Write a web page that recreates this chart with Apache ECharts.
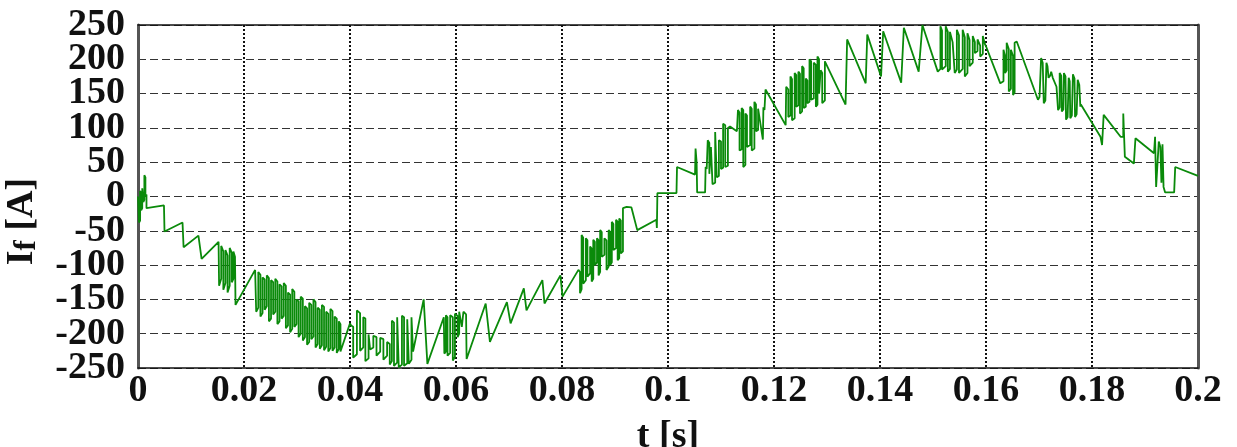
<!DOCTYPE html>
<html>
<head>
<meta charset="utf-8">
<title>If [A]</title>
<script src="https://cdn.jsdelivr.net/npm/echarts@6/dist/echarts.min.js"></script>
<style>
  html, body { margin: 0; padding: 0; background: #fff; }
  #chart { width: 1237px; height: 447px; }
</style>
</head>
<body>
<div id="chart"></div>
<script>
// Axis ticks
const timeTicks = [0, 0.02, 0.04, 0.06, 0.08, 0.1, 0.12, 0.14, 0.16, 0.18, 0.2];
const currentTicks = [-250, -200, -150, -100, -50, 0, 50, 100, 150, 200, 250];

// Field current samples [t (s), If (A)], split by stretch of the cycle
const startup = [[0,0],[0.0002,0],[0.0002,-38],[0.0004,-35],[0.0004,8],[0.0006,5],[0.0006,-20],[0.0008,-17],[0.0008,12],[0.0010,10],[0.0010,-8],[0.0012,-5],[0.0012,31],[0.0014,28],[0.0014,0],[0.0016,3],[0.0016,-17],[0.0049,-13],[0.0050,-51],[0.0084,-38],[0.0086,-74],[0.0114,-57],[0.0120,-91],[0.0152,-66],[0.0153,-130],[0.0157,-120],[0.0157,-72],[0.0161,-80],[0.0161,-136],[0.0165,-126],[0.0165,-78],[0.0169,-86],[0.0169,-140],[0.0173,-130],[0.0173,-75],[0.0177,-82],[0.0177,-125],[0.0180,-120],[0.0180,-80],[0.0183,-88],[0.0184,-158],[0.0221,-107]];

const fallDense = [[0.0223,-107],[0.0223,-168],[0.0227,-162],[0.0227,-110],[0.0231,-114],[0.0231,-175],[0.0235,-170],[0.0235,-118],[0.0239,-121],[0.0239,-165],[0.0243,-160],[0.0243,-115],[0.0247,-119],[0.0247,-182],[0.0251,-178],[0.0251,-122],[0.0255,-125],[0.0255,-172],[0.0259,-168],[0.0259,-120],[0.0263,-124],[0.0263,-186],[0.0267,-182],[0.0267,-128],[0.0271,-131],[0.0271,-178],[0.0275,-174],[0.0275,-126],[0.0279,-130],[0.0279,-192],[0.0283,-188],[0.0283,-140],[0.0287,-143],[0.0287,-198],[0.0291,-193],[0.0291,-135],[0.0295,-139],[0.0295,-190],[0.0299,-186],[0.0299,-150],[0.0303,-153],[0.0303,-205],[0.0307,-200],[0.0307,-146],[0.0311,-149],[0.0311,-210],[0.0315,-205],[0.0315,-160],[0.0319,-163],[0.0319,-216],[0.0323,-212],[0.0323,-155],[0.0327,-158],[0.0327,-208],[0.0331,-204],[0.0331,-150],[0.0335,-154],[0.0335,-220],[0.0339,-215],[0.0339,-162],[0.0343,-165],[0.0343,-222],[0.0347,-217],[0.0347,-158],[0.0351,-161],[0.0351,-224],[0.0355,-219],[0.0355,-168],[0.0359,-171],[0.0359,-226],[0.0363,-221],[0.0363,-164],[0.0367,-167],[0.0367,-225],[0.0371,-220],[0.0371,-175],[0.0375,-178],[0.0375,-228],[0.0379,-222],[0.0379,-182],[0.0382,-186],[0.0382,-226],[0.0400,-185]];

const trough = [[0.0402,-188],[0.0406,-190],[0.0406,-235],[0.0413,-230],[0.0413,-166],[0.0419,-170],[0.0419,-225],[0.0425,-220],[0.0425,-176],[0.0429,-178],[0.0429,-240],[0.0435,-236],[0.0435,-201],[0.0438,-203],[0.0438,-223],[0.0444,-220],[0.0444,-203],[0.0450,-205],[0.0450,-232],[0.0457,-226],[0.0457,-206],[0.0463,-208],[0.0463,-238],[0.0470,-232],[0.0470,-212],[0.0475,-215],[0.0475,-245],[0.0479,-240],[0.0479,-181],[0.0483,-184],[0.0483,-247],[0.0489,-242],[0.0489,-176],[0.0492,-178],[0.0492,-249],[0.0498,-245],[0.0498,-174],[0.0502,-176],[0.0502,-247],[0.0508,-243],[0.0508,-179],[0.0511,-181],[0.0511,-244],[0.0516,-238],[0.0516,-176],[0.0519,-178],[0.0519,-226],[0.0539,-150],[0.0542,-152],[0.0546,-244],[0.0577,-176],[0.0578,-178],[0.0578,-229],[0.0581,-226],[0.0581,-173],[0.0584,-176],[0.0584,-232],[0.0589,-228],[0.0589,-173],[0.0594,-176],[0.0594,-239],[0.0598,-234],[0.0598,-171],[0.0603,-174],[0.0603,-205],[0.0606,-200],[0.0606,-168],[0.0611,-190],[0.0614,-168],[0.0619,-172],[0.0620,-237]];

const riseRamps = [[0.0656,-156],[0.0664,-212],[0.0696,-154],[0.0703,-185],[0.0728,-134],[0.0733,-166],[0.0763,-122],[0.0767,-156],[0.0797,-115],[0.0801,-146],[0.0831,-107]];

const riseDense = [[0.0834,-110],[0.0834,-141],[0.0837,-135],[0.0837,-56],[0.0840,-60],[0.0840,-127],[0.0845,-122],[0.0845,-61],[0.0848,-64],[0.0848,-117],[0.0853,-112],[0.0853,-73],[0.0856,-76],[0.0856,-124],[0.0859,-120],[0.0859,-63],[0.0862,-66],[0.0862,-100],[0.0866,-96],[0.0866,-61],[0.0869,-64],[0.0869,-115],[0.0872,-110],[0.0872,-49],[0.0875,-52],[0.0875,-88],[0.0880,-85],[0.0880,-61],[0.0884,-64],[0.0884,-107],[0.0888,-102],[0.0888,-49],[0.0891,-52],[0.0891,-100],[0.0894,-96],[0.0894,-37],[0.0897,-40],[0.0897,-78],[0.0902,-75],[0.0902,-34],[0.0905,-37],[0.0905,-93],[0.0908,-90],[0.0908,-32],[0.0911,-35],[0.0911,-83],[0.0915,-80],[0.0915,-17],[0.0922,-15],[0.0931,-16]];

const zeroCross = [[0.0942,-49],[0.0978,-34],[0.0979,-46],[0.0980,5],[0.1016,5],[0.1017,43],[0.1051,32],[0.1052,70],[0.1054,50],[0.1055,6],[0.1070,6]];

const riseUpper = [[0.1071,43],[0.1073,40],[0.1075,82],[0.1078,78],[0.1078,33],[0.1081,35],[0.1081,72],[0.1084,70],[0.1084,18],[0.1089,20],[0.1089,94],[0.1092,92],[0.1092,28],[0.1096,30],[0.1096,82],[0.1100,80],[0.1100,40],[0.1104,42],[0.1104,106],[0.1108,104],[0.1108,43],[0.1113,45],[0.1113,100],[0.1117,102],[0.1130,95],[0.1132,126],[0.1135,122],[0.1135,67],[0.1139,69],[0.1139,129],[0.1142,126],[0.1142,43],[0.1146,46],[0.1146,121],[0.1149,118],[0.1149,72],[0.1155,75],[0.1155,131],[0.1158,128],[0.1158,67],[0.1163,70],[0.1163,138],[0.1166,134],[0.1166,95],[0.1170,97],[0.1170,128],[0.1179,83],[0.1180,130],[0.1182,126],[0.1184,156],[0.1222,104],[0.1223,160],[0.1227,156],[0.1227,116],[0.1231,118],[0.1231,175],[0.1234,171],[0.1234,111],[0.1239,114],[0.1239,180],[0.1242,177],[0.1242,131],[0.1246,133],[0.1246,182],[0.1249,179],[0.1249,121],[0.1253,124],[0.1253,190],[0.1256,187],[0.1256,129],[0.1260,131],[0.1260,172],[0.1263,169],[0.1263,136],[0.1267,138],[0.1267,200],[0.1270,197],[0.1270,141],[0.1275,143],[0.1275,195],[0.1279,192],[0.1279,131],[0.1282,134],[0.1282,204],[0.1285,200],[0.1285,150],[0.1288,152],[0.1288,184],[0.1291,180],[0.1291,136],[0.1296,140],[0.1296,197]];

const crestRamps = [[0.1335,134],[0.1338,229],[0.1373,165],[0.1376,236],[0.1402,175],[0.1406,241],[0.1440,166],[0.1445,246],[0.1473,182],[0.1480,250],[0.1509,182]];

const crestDense = [[0.1514,186],[0.1514,248],[0.1517,242],[0.1517,185],[0.1524,190],[0.1524,248],[0.1528,240],[0.1528,182],[0.1532,186],[0.1532,240],[0.1537,225],[0.1541,180],[0.1545,185],[0.1545,243],[0.1549,235],[0.1549,180],[0.1556,186],[0.1556,243],[0.1560,232],[0.1560,175],[0.1565,180],[0.1565,238],[0.1569,228],[0.1569,190],[0.1575,195],[0.1575,234],[0.1579,225],[0.1579,209],[0.1584,212],[0.1584,229],[0.1589,220],[0.1589,204],[0.1594,208],[0.1594,234],[0.1598,222]];

const fallUpper = [[0.1600,219],[0.1627,165],[0.1633,168],[0.1633,214],[0.1636,205],[0.1636,180],[0.1639,184],[0.1639,224],[0.1643,215],[0.1643,153],[0.1647,157],[0.1647,214],[0.1651,205],[0.1651,148],[0.1654,152],[0.1654,224],[0.1658,226],[0.1698,141],[0.1701,145],[0.1704,202],[0.1707,195],[0.1709,136],[0.1712,140],[0.1714,195],[0.1716,190],[0.1718,173],[0.1721,176],[0.1723,182],[0.1726,173],[0.1733,160],[0.1736,126],[0.1739,130],[0.1739,180],[0.1742,176],[0.1743,124],[0.1746,127],[0.1747,180],[0.1750,175],[0.1751,112],[0.1754,116],[0.1756,173],[0.1758,168],[0.1759,114],[0.1762,118],[0.1764,178],[0.1767,172],[0.1768,116],[0.1771,120],[0.1773,170],[0.1776,163],[0.1778,131],[0.1779,134]];

const tail = [[0.1816,87],[0.1819,75],[0.1822,75],[0.1822,119],[0.1854,87],[0.1859,87],[0.1859,121],[0.1862,58],[0.1879,48],[0.1882,85],[0.1917,63],[0.1919,87],[0.1921,14],[0.1924,16],[0.1926,80],[0.1929,72],[0.1931,20],[0.1933,76],[0.1935,14],[0.1938,6],[0.1955,6],[0.1957,43],[0.2,30]];

const fieldCurrent = [].concat(startup, fallDense, trough, riseRamps, riseDense,
  zeroCross, riseUpper, crestRamps, crestDense, fallUpper, tail);

const serif = '"Liberation Serif", "DejaVu Serif", serif';
const labelStyle = { fontFamily: serif, fontWeight: 'bold', fontSize: 38, color: '#111' };
const yMin = currentTicks[0];
const yMax = currentTicks[currentTicks.length - 1];
const yStep = currentTicks[1] - currentTicks[0];

// The tall tick labels are set closer than their own height, so they are
// split over two coincident left axes (alternate ticks on each) to keep
// every label visible.
function alternateLabels(keepOdd) {
  return function (v) {
    const idx = Math.round((v - yMin) / yStep);
    return (idx % 2 === 0) === !keepOdd ? String(v) : '';
  };
}

const chart = echarts.init(document.getElementById('chart'), null, { renderer: 'canvas' });
chart.setOption({
  animation: false,
  backgroundColor: '#fff',
  grid: { left: 138, right: 39, top: 25, bottom: 79, containLabel: false, outerBoundsMode: 'none' },
  xAxis: [{
    type: 'value',
    min: timeTicks[0],
    max: timeTicks[timeTicks.length - 1],
    interval: timeTicks[1] - timeTicks[0],
    name: 't [s]',
    nameLocation: 'middle',
    nameGap: 50,
    nameTextStyle: labelStyle,
    axisLine: { show: true, onZero: false, lineStyle: { color: '#111', width: 1.5 } },
    axisTick: { show: false },
    axisLabel: Object.assign({ margin: 4, showMinLabel: true, showMaxLabel: true, hideOverlap: false }, labelStyle),
    splitLine: { show: true, lineStyle: { type: [2, 2], color: '#111', width: 2 } }
  }, {
    type: 'value', position: 'top',
    min: timeTicks[0], max: timeTicks[timeTicks.length - 1],
    axisLine: { show: true, onZero: false, lineStyle: { color: '#111', width: 1.5 } },
    axisTick: { show: false }, axisLabel: { show: false }, splitLine: { show: false }
  }],
  yAxis: [{
    type: 'value',
    min: yMin, max: yMax, interval: yStep,
    name: '{a|I}{b|f}{a| [A]}',
    nameLocation: 'middle',
    nameRotate: 90,
    nameGap: 96,
    nameTextStyle: {
      padding: [0, 50, 0, 0],
      rich: {
        a: { fontFamily: serif, fontWeight: 'bold', fontSize: 38, color: '#111' },
        b: { fontFamily: serif, fontWeight: 'bold', fontSize: 31, color: '#111', padding: [8, 0, 0, 0] }
      }
    },
    axisLine: { show: true, onZero: false, lineStyle: { color: '#555', width: 3 } },
    axisTick: { show: false },
    axisLabel: Object.assign({ margin: 13, showMinLabel: true, showMaxLabel: true, hideOverlap: false,
      formatter: alternateLabels(false) }, labelStyle),
    splitLine: { show: true, lineStyle: { type: [8, 4], color: '#333', width: 1.2 } }
  }, {
    type: 'value', position: 'left', offset: 0,
    min: yMin, max: yMax, interval: yStep,
    axisLine: { show: false },
    axisTick: { show: false },
    axisLabel: Object.assign({ margin: 13, showMinLabel: true, showMaxLabel: true, hideOverlap: false,
      formatter: alternateLabels(true) }, labelStyle),
    splitLine: { show: false }
  }, {
    type: 'value', position: 'right',
    min: yMin, max: yMax,
    axisLine: { show: true, onZero: false, lineStyle: { color: '#555', width: 3 } },
    axisTick: { show: false }, axisLabel: { show: false }, splitLine: { show: false }
  }],
  series: [{
    type: 'line',
    xAxisIndex: 0,
    yAxisIndex: 0,
    data: fieldCurrent,
    showSymbol: false,
    symbol: 'none',
    lineStyle: { color: '#0a8a0a', width: 1.8 },
    z: 3
  }]
});
</script>
</body>
</html>
